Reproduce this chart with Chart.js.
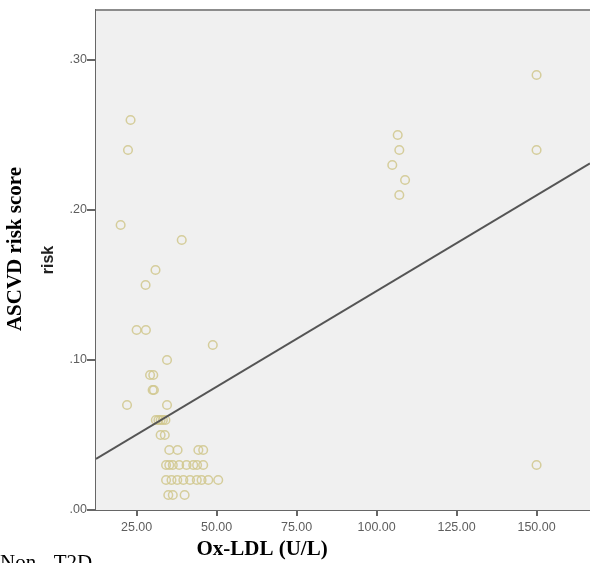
<!DOCTYPE html>
<html>
<head>
<meta charset="utf-8">
<script src="https://cdn.jsdelivr.net/npm/chart.js@4"></script>
<style>
  html, body { margin: 0; padding: 0; background: #fff; }
  #wrap { width: 590px; height: 563px; position: relative; }
</style>
</head>
<body>
<div id="wrap"><canvas id="chart_scatter"></canvas></div>
<script>
// ---------- data ----------
const oxLdl = [
  23.1, 22.3, 20.0, 39.1, 30.9, 27.8, 25.0, 27.9, 48.8, 34.5,
  29.2, 30.2, 30.0, 30.4, 22.0, 34.5,
  31.0, 31.8, 32.5, 33.2, 34.0,
  32.5, 33.8,
  35.2, 37.8, 44.3, 45.8,
  34.2, 35.2, 36.3, 38.3, 40.6, 42.7, 43.9, 45.8,
  34.2, 35.9, 37.7, 39.6, 41.7, 43.8, 45.3, 47.4, 50.5,
  34.9, 36.3, 40.0,
  106.6, 107.1, 104.9, 108.9, 107.1,
  150.0, 150.0, 150.0
];
const ascvdRisk = [
  0.26, 0.24, 0.19, 0.18, 0.16, 0.15, 0.12, 0.12, 0.11, 0.10,
  0.09, 0.09, 0.08, 0.08, 0.07, 0.07,
  0.06, 0.06, 0.06, 0.06, 0.06,
  0.05, 0.05,
  0.04, 0.04, 0.04, 0.04,
  0.03, 0.03, 0.03, 0.03, 0.03, 0.03, 0.03, 0.03,
  0.02, 0.02, 0.02, 0.02, 0.02, 0.02, 0.02, 0.02, 0.02,
  0.01, 0.01, 0.01,
  0.25, 0.24, 0.23, 0.22, 0.21,
  0.29, 0.24, 0.03
];
// fit line
const fitIntercept = 0.0183;
const fitSlope = 0.001276;

const xTicks = [25, 50, 75, 100, 125, 150];
const yTicks = [0, 0.1, 0.2, 0.3];
const xRange = [12.3, 166.7];
const yRange = [0, 0.3333];

const points = oxLdl.map((x, i) => ({ x, y: ascvdRisk[i] }));
const fitLine = xRange.map(x => ({ x, y: fitIntercept + fitSlope * x }));

const AXIS = '#666';
const TICK_TXT = '#5e5e5e';

// background, top frame line and the text labels around the plot
const frame = {
  id: 'frame',
  beforeDatasetsDraw(chart) {
    const { ctx, chartArea: a } = chart;
    ctx.save();
    ctx.fillStyle = '#f0f0f0';
    ctx.fillRect(a.left, a.top, a.right - a.left, a.bottom - a.top);
    ctx.strokeStyle = '#8c8c8c';
    ctx.lineWidth = 2;
    ctx.beginPath();
    ctx.moveTo(a.left, a.top);
    ctx.lineTo(a.right, a.top);
    ctx.stroke();
    ctx.restore();
  },
  afterDraw(chart) {
    const { ctx } = chart;
    ctx.save();
    ctx.fillStyle = '#000';
    ctx.textAlign = 'center';
    ctx.textBaseline = 'middle';

    ctx.save();
    ctx.translate(16, 249);
    ctx.rotate(-Math.PI / 2);
    ctx.font = 'bold 21px "Liberation Serif", "Times New Roman", serif';
    ctx.fillText('ASCVD risk score', 0, 0);
    ctx.restore();

    ctx.save();
    ctx.translate(49, 260);
    ctx.rotate(-Math.PI / 2);
    ctx.fillStyle = '#222';
    ctx.font = 'bold 16px "Liberation Sans", Arial, sans-serif';
    ctx.fillText('risk', 0, 0);
    ctx.restore();

    ctx.font = 'bold 21px "Liberation Serif", "Times New Roman", serif';
    ctx.fillText('Ox-LDL (U/L)', 262, 550);

    ctx.textAlign = 'left';
    ctx.textBaseline = 'alphabetic';
    ctx.font = '21px "Liberation Serif", "Times New Roman", serif';
    ctx.fillText('Non - T2D', 0, 569);
    ctx.restore();
  }
};

new Chart(document.getElementById('chart_scatter'), {
  type: 'scatter',
  data: {
    datasets: [
      {
        label: 'Risk',
        data: points,
        pointRadius: 4.3,
        pointBorderWidth: 1.5,
        pointBorderColor: 'rgba(208,199,140,0.85)',
        pointBackgroundColor: 'rgba(0,0,0,0)',
        order: 2
      },
      {
        type: 'line',
        label: 'Fit',
        data: fitLine,
        borderColor: '#555',
        borderWidth: 2,
        pointRadius: 0,
        fill: false,
        order: 1
      }
    ]
  },
  options: {
    responsive: true,
    maintainAspectRatio: false,
    animation: false,
    layout: { autoPadding: false, padding: { top: 10, left: 0, right: 0, bottom: 0 } },
    plugins: {
      legend: { display: false },
      tooltip: { enabled: false }
    },
    scales: {
      x: {
        type: 'linear',
        min: xRange[0],
        max: xRange[1],
        afterFit: s => { s.height = 53; s.paddingLeft = 0; s.paddingRight = 0; },
        afterBuildTicks: s => { s.ticks = xTicks.map(v => ({ value: v })); },
        border: { display: true, color: AXIS, width: 2 },
        grid: { drawOnChartArea: false, drawTicks: true, tickLength: 6, color: AXIS, lineWidth: 2 },
        ticks: {
          color: TICK_TXT,
          padding: 4,
          maxRotation: 0,
          font: { family: '"Liberation Sans", Arial, sans-serif', size: 12.5 },
          callback: v => Number(v).toFixed(2)
        }
      },
      y: {
        type: 'linear',
        min: yRange[0],
        max: yRange[1],
        afterFit: s => { s.width = 96; s.paddingTop = 0; s.paddingBottom = 0; },
        afterBuildTicks: s => { s.ticks = yTicks.map(v => ({ value: v })); },
        border: { display: true, color: AXIS, width: 2 },
        grid: { drawOnChartArea: false, drawTicks: true, tickLength: 9, color: AXIS, lineWidth: 2 },
        ticks: {
          color: TICK_TXT,
          padding: 0,
          font: { family: '"Liberation Sans", Arial, sans-serif', size: 12.5 },
          callback: v => Number(v).toFixed(2).replace(/^0/, '')
        }
      }
    }
  },
  plugins: [frame]
});
</script>
</body>
</html>
